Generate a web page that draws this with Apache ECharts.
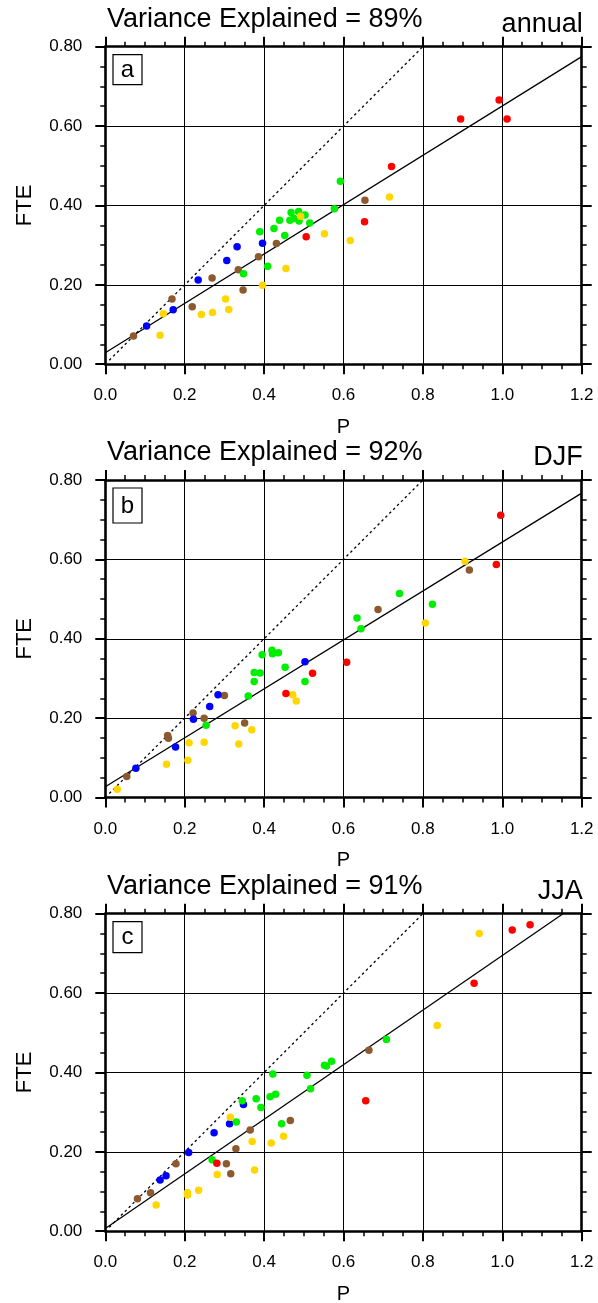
<!DOCTYPE html>
<html>
<head>
<meta charset="utf-8">
<script src="https://cdn.jsdelivr.net/npm/echarts@6/dist/echarts.min.js"></script>
<style>
  html, body { margin: 0; padding: 0; background: #fff; }
  #chart { width: 598px; height: 1303px; }
</style>
</head>
<body>
<div id="chart"></div>
<script>
// ---- data: [P, FTE] pairs per colour group, one set per season ----
const annualRed = [[0.506,0.321],[0.653,0.359],[0.721,0.498],[0.895,0.618],[0.992,0.666],[1.012,0.618]];
const annualYellow = [[0.138,0.073],[0.146,0.127],[0.242,0.125],[0.270,0.130],[0.303,0.164],[0.311,0.138],[0.396,0.199],[0.455,0.241],[0.492,0.373],[0.552,0.329],[0.617,0.312],[0.716,0.421]];
const annualGreen = [[0.348,0.228],[0.389,0.334],[0.409,0.247],[0.425,0.342],[0.439,0.363],[0.452,0.324],[0.465,0.363],[0.468,0.382],[0.475,0.367],[0.487,0.385],[0.488,0.361],[0.503,0.376],[0.515,0.356],[0.577,0.392],[0.592,0.461]];
const annualBlue = [[0.104,0.096],[0.171,0.137],[0.234,0.212],[0.306,0.261],[0.332,0.296],[0.396,0.305]];
const annualBrown = [[0.071,0.071],[0.168,0.164],[0.219,0.145],[0.269,0.217],[0.335,0.238],[0.347,0.187],[0.386,0.271],[0.431,0.304],[0.654,0.413]];
const annualFit = [[0, 0.029],[1.2, 0.775]];

const djfRed = [[0.455,0.262],[0.522,0.313],[0.608,0.341],[0.985,0.587],[0.996,0.711]];
const djfYellow = [[0.030,0.021],[0.154,0.084],[0.208,0.094],[0.211,0.138],[0.249,0.139],[0.327,0.181],[0.336,0.135],[0.369,0.171],[0.472,0.259],[0.481,0.243],[0.806,0.440],[0.906,0.595]];
const djfGreen = [[0.254,0.182],[0.360,0.256],[0.375,0.292],[0.375,0.315],[0.390,0.314],[0.395,0.360],[0.420,0.371],[0.421,0.362],[0.436,0.365],[0.453,0.328],[0.503,0.292],[0.634,0.452],[0.644,0.425],[0.741,0.514],[0.824,0.487]];
const djfBlue = [[0.077,0.074],[0.177,0.127],[0.222,0.197],[0.263,0.229],[0.284,0.259],[0.503,0.342]];
const djfBrown = [[0.054,0.053],[0.157,0.156],[0.159,0.149],[0.221,0.213],[0.249,0.200],[0.300,0.257],[0.351,0.188],[0.687,0.474],[0.917,0.573]];
const djfFit = [[0, 0.027],[1.2, 0.767]];

const jjaRed = [[0.281,0.171],[0.656,0.329],[0.929,0.625],[1.025,0.759],[1.070,0.772]];
const jjaYellow = [[0.128,0.066],[0.207,0.097],[0.207,0.091],[0.235,0.103],[0.282,0.143],[0.315,0.287],[0.370,0.226],[0.376,0.154],[0.418,0.222],[0.449,0.239],[0.836,0.518],[0.942,0.750]];
const jjaGreen = [[0.269,0.180],[0.330,0.275],[0.345,0.329],[0.380,0.334],[0.392,0.312],[0.415,0.339],[0.422,0.396],[0.429,0.345],[0.444,0.271],[0.508,0.393],[0.517,0.359],[0.552,0.418],[0.557,0.416],[0.570,0.428],[0.708,0.483]];
const jjaBlue = [[0.138,0.129],[0.153,0.140],[0.210,0.198],[0.274,0.248],[0.313,0.271],[0.348,0.319]];
const jjaBrown = [[0.081,0.082],[0.114,0.097],[0.178,0.170],[0.305,0.170],[0.316,0.145],[0.329,0.208],[0.365,0.255],[0.466,0.279],[0.664,0.456]];
const jjaFit = [[0, 0.007],[1.153, 0.8]];

// 1:1 reference line
const oneToOne = [[0.01, 0.01],[0.8, 0.8]];

const panelLetters = ['a', 'b', 'c'];
const seasonNames = ['annual', 'DJF', 'JJA'];
const varianceExplained = [89, 92, 91];

const xTicks = { min: 0, max: 1.2, interval: 0.2 };
const yTicks = { min: 0, max: 0.8, interval: 0.2 };

// ---- styling / layout ----
const FONT = '"Liberation Sans", Arial, Helvetica, sans-serif';
const COLORS = { red: '#ff0000', yellow: '#ffd700', green: '#00ee00', blue: '#0000ff', brown: '#8c5a2e' };
const GRID_LEFT = 105.3, GRID_WIDTH = 476.4, GRID_HEIGHT = 317.5;
const GRID_TOPS = [46.7, 480, 913.7];
const LETTER_BOX_H = [30, 35, 31];

const panels = [
  { red: annualRed, yellow: annualYellow, green: annualGreen, blue: annualBlue, brown: annualBrown, fit: annualFit },
  { red: djfRed, yellow: djfYellow, green: djfGreen, blue: djfBlue, brown: djfBrown, fit: djfFit },
  { red: jjaRed, yellow: jjaYellow, green: jjaGreen, blue: jjaBlue, brown: jjaBrown, fit: jjaFit }
];

const grids = [], xAxes = [], yAxes = [], series = [], graphics = [];

function axisCommon(showLabel, showSplit, digits) {
  return {
    type: 'value',
    axisLine: { show: true, onZero: false, lineStyle: { color: '#000', width: 2.6 } },
    axisTick: { show: true, inside: false, length: 10, lineStyle: { color: '#000', width: 2 } },
    minorTick: { show: true, splitNumber: 4, length: 5, lineStyle: { color: '#000', width: 1.5 } },
    splitLine: { show: showSplit, lineStyle: { color: '#000', width: 1 } },
    minorSplitLine: { show: false },
    axisLabel: {
      show: showLabel, color: '#000', fontFamily: FONT, fontSize: 17,
      formatter: v => v.toFixed(digits)
    }
  };
}

panels.forEach((p, i) => {
  const top = GRID_TOPS[i];
  grids.push({ left: GRID_LEFT, top: top, width: GRID_WIDTH, height: GRID_HEIGHT, containLabel: false });

  // bottom / left axes carry labels and grid lines; top / right mirror the ticks
  const xb = Object.assign(axisCommon(true, true, 1), { gridIndex: i, position: 'bottom' }, xTicks);
  xb.axisLabel.margin = 23;
  const xt = Object.assign(axisCommon(false, false, 1), { gridIndex: i, position: 'top' }, xTicks);
  const yl = Object.assign(axisCommon(true, true, 2), { gridIndex: i, position: 'left' }, yTicks);
  yl.axisLabel.margin = 23;
  const yr = Object.assign(axisCommon(false, false, 2), { gridIndex: i, position: 'right' }, yTicks);
  const xi = xAxes.length, yi = yAxes.length;
  xAxes.push(xb, xt);
  yAxes.push(yl, yr);

  series.push({
    type: 'line', xAxisIndex: xi, yAxisIndex: yi, data: oneToOne, showSymbol: false, silent: true,
    lineStyle: { color: '#000', width: 1.3, type: [2.5, 3] }, z: 2
  });
  series.push({
    type: 'line', xAxisIndex: xi, yAxisIndex: yi, data: p.fit, showSymbol: false, silent: true,
    lineStyle: { color: '#000', width: 1.3 }, z: 2
  });
  ['brown', 'blue', 'green', 'yellow', 'red'].forEach(c => {
    series.push({
      type: 'scatter', xAxisIndex: xi, yAxisIndex: yi, data: p[c], symbol: 'circle', symbolSize: 7.5,
      itemStyle: { color: COLORS[c], opacity: 1 }, z: 3
    });
  });

  // header texts
  graphics.push({
    type: 'text', x: GRID_LEFT + 1.7, y: top - 27,
    style: { text: 'Variance Explained = ' + varianceExplained[i] + '%', font: '27px ' + FONT, fill: '#000',
             textAlign: 'left', textVerticalAlign: 'middle' }
  });
  graphics.push({
    type: 'text', x: GRID_LEFT + GRID_WIDTH + 1, y: top - 22,
    style: { text: seasonNames[i], font: '27px ' + FONT, fill: '#000', textAlign: 'right', textVerticalAlign: 'middle' }
  });
  // panel letter box
  const bh = LETTER_BOX_H[i];
  graphics.push({
    type: 'rect', shape: { x: 113, y: top + 8, width: 29, height: bh },
    style: { fill: '#fff', stroke: '#000', lineWidth: 1.2 }, z: 10
  });
  graphics.push({
    type: 'text', x: 127.5, y: top + 8 + bh / 2 + 0.5,
    style: { text: panelLetters[i], font: '24px ' + FONT, fill: '#000', textAlign: 'center', textVerticalAlign: 'middle' }, z: 11
  });
  // axis titles
  graphics.push({
    type: 'text', x: 25, y: top + GRID_HEIGHT / 2, rotation: Math.PI / 2,
    style: { text: 'FTE', font: '22px ' + FONT, fill: '#000', textAlign: 'center', textVerticalAlign: 'middle' }
  });
  graphics.push({
    type: 'text', x: GRID_LEFT + 0.6 / 1.2 * GRID_WIDTH, y: top + GRID_HEIGHT + 63,
    style: { text: 'P', font: '20px ' + FONT, fill: '#000', textAlign: 'center', textVerticalAlign: 'middle' }
  });
});

const chart = echarts.init(document.getElementById('chart'), null, { renderer: 'canvas' });
chart.setOption({
  animation: false,
  backgroundColor: '#fff',
  grid: grids,
  xAxis: xAxes,
  yAxis: yAxes,
  series: series,
  graphic: graphics
});
</script>
</body>
</html>
